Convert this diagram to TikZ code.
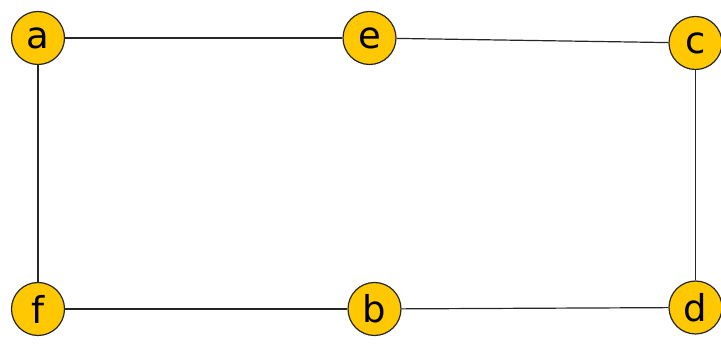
\documentclass[tikz,border=0pt]{standalone}
\usepackage{fontspec}
\setmainfont{DejaVu Sans}
\definecolor{gold}{RGB}{255,200,0}
\begin{document}
\begin{tikzpicture}[x=1pt,y=-1pt,
		vertex/.style={circle,draw=black!85,line width=1.2pt,fill=gold,minimum size=53pt,inner sep=0pt,font=\fontsize{37}{37}\selectfont},
		edge/.style={line width=1.2pt,draw=black!85}]
		\useasboundingbox (0,0) rectangle (721,344);
		\node[vertex] (a) at (38,38) {a};
		\node[vertex] (e) at (369.5,38) {e};
		\node[vertex] (c) at (695.5,43) {c};
		\node[vertex] (f) at (38,309) {f};
		\node[vertex] (b) at (374.5,309) {b};
		\node[vertex] (d) at (695.5,307.5) {d};
		\draw[edge] (a) -- (e);
		\draw[edge] (e) -- (c);
		\draw[edge] (c) -- (d);
		\draw[edge] (d) -- (b);
		\draw[edge] (b) -- (f);
		\draw[edge] (f) -- (a);
	\end{tikzpicture}
\end{document}
